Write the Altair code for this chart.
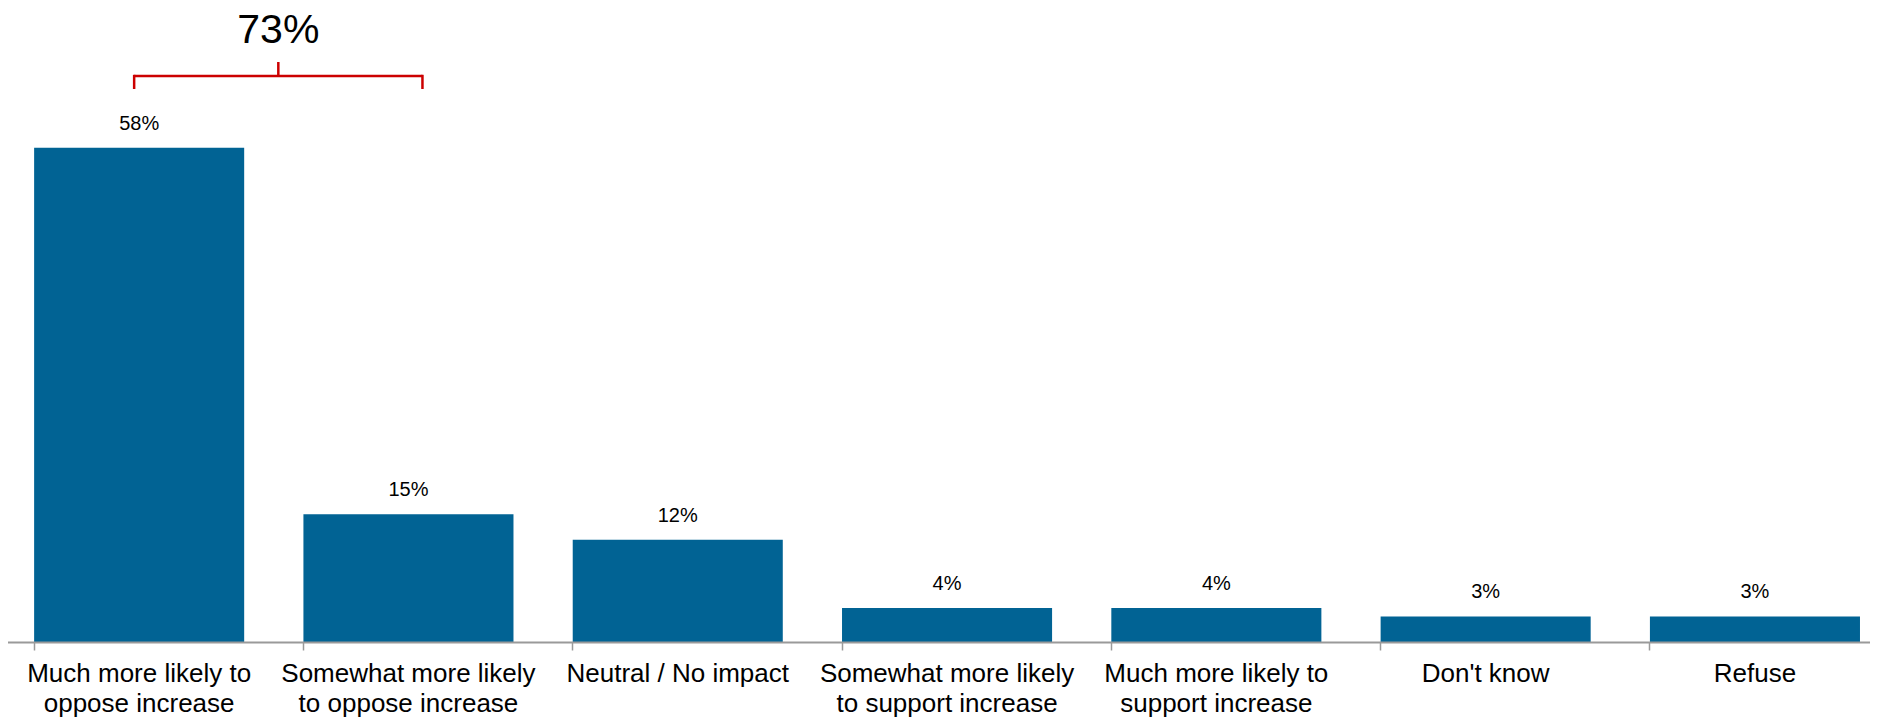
import altair as alt
import pandas as pd

# ---- data ----
categories = [
    "Much more likely to|oppose increase",
    "Somewhat more likely|to oppose increase",
    "Neutral / No impact",
    "Somewhat more likely|to support increase",
    "Much more likely to|support increase",
    "Don't know",
    "Refuse",
]
values = [58, 15, 12, 4, 4, 3, 3]
value_labels = ["58%", "15%", "12%", "4%", "4%", "3%", "3%"]

# bracket grouping the first two answers
group_first = categories[0]
group_last = categories[1]
group_total_label = "73%"

BAR = "#016394"
RED = "#CC0000"
FONT = "Liberation Sans"

df = pd.DataFrame({"cat": categories, "value": values, "label": value_labels})
top_value = max(values)

xscale = alt.Scale(domain=categories, range=[-3.5, 1881.6], paddingInner=0.22, paddingOuter=0.11)
yscale = alt.Scale(domain=[0, 74.39], nice=False, zero=True)

x_enc = alt.X(
    "cat:N",
    sort=categories,
    scale=xscale,
    title=None,
    axis=alt.Axis(
        labelAngle=0,
        labelExpr="split(datum.label, '|')",
        labelFont=FONT,
        labelFontSize=26,
        labelColor="#000000",
        labelLineHeight=30,
        labelBaseline="top",
        labelPadding=10.5,
        labelLimit=400,
        bandPosition=0,
        tickSize=8,
        tickColor="#9a9a9a",
        tickWidth=1.5,
        domainColor="#9a9a9a",
        domainWidth=2,
        grid=False,
        zindex=1,
    ),
)
y_enc = alt.Y("value:Q", scale=yscale, axis=None)

bars = alt.Chart(df).mark_bar(color=BAR).encode(x=x_enc, y=y_enc)

labels = alt.Chart(df).mark_text(
    font=FONT, fontSize=20, color="#000000", baseline="alphabetic", dy=-18
).encode(x=alt.X("cat:N", sort=categories, scale=xscale), y=y_enc, text="label:N")

# bracket pieces, anchored on the tallest bar's value with pixel offsets
br = pd.DataFrame({"a": [group_first], "b": [group_last], "v": [top_value], "t": [group_total_label]})

br_h = alt.Chart(br).mark_rule(color=RED, strokeWidth=2.5, xOffset=-5, x2Offset=14, yOffset=-71.7).encode(
    x=alt.X("a:N", scale=xscale), x2="b:N", y=alt.Y("v:Q", scale=yscale)
)
br_l = alt.Chart(br).mark_rule(color=RED, strokeWidth=2.5, xOffset=-5, yOffset=-72.9, y2Offset=-58.7).encode(
    x=alt.X("a:N", scale=xscale), y=alt.Y("v:Q", scale=yscale), y2="v:Q"
)
br_r = alt.Chart(br).mark_rule(color=RED, strokeWidth=2.5, xOffset=14, yOffset=-72.9, y2Offset=-58.7).encode(
    x=alt.X("b:N", scale=xscale), y=alt.Y("v:Q", scale=yscale), y2="v:Q"
)
br_c = alt.Chart(br).mark_rule(color=RED, strokeWidth=2.5, xOffset=-25.1, yOffset=-85.7, y2Offset=-71).encode(
    x=alt.X("b:N", scale=xscale, bandPosition=0), y=alt.Y("v:Q", scale=yscale), y2="v:Q"
)
br_t = alt.Chart(br).mark_text(
    font=FONT, fontSize=41, color="#000000", baseline="alphabetic", dx=-25.1, dy=-104.7
).encode(x=alt.X("b:N", scale=xscale, bandPosition=0), y=alt.Y("v:Q", scale=yscale), text="t:N")

chart = (
    alt.layer(bars, labels, br_h, br_l, br_r, br_c, br_t)
    .properties(
        width=1862,
        height=634,
        padding={"left": 0, "top": 0, "right": 0, "bottom": 79},
        autosize=alt.AutoSizeParams(type="none"),
    )
    .configure_view(stroke=None)
)

chart.save("out.html", embed_options={"renderer": "svg", "actions": False})
